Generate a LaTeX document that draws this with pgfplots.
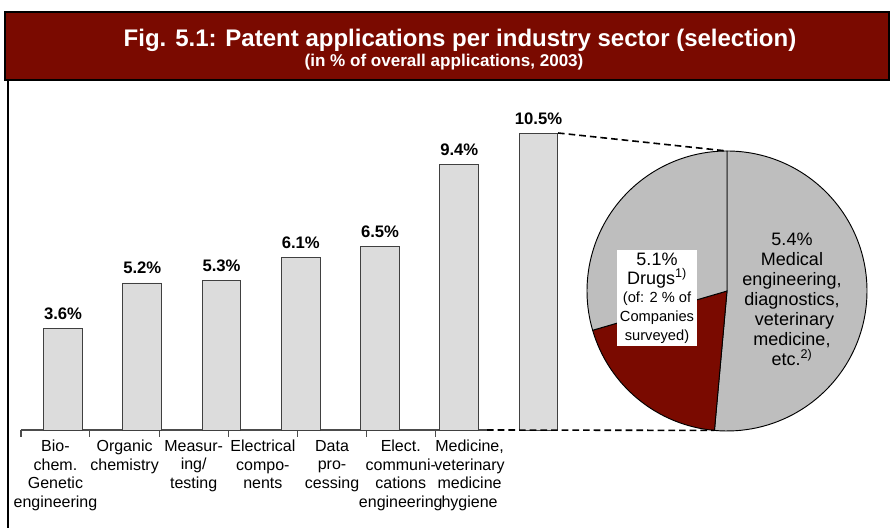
\documentclass[border=0pt]{standalone}
\usepackage{pgfplots}
\pgfplotsset{compat=1.18}
\usepackage{fontspec}
\setmainfont{Liberation Sans}
\definecolor{maroon}{HTML}{7A0A00}
\definecolor{barfill}{HTML}{DCDCDC}
\definecolor{piegray}{HTML}{BEBEBE}

% pie: medical engineering etc. / drugs (of which companies surveyed) / rest of drugs
\def\pieMed{5.4}
\def\pieDrugCo{2.0}
\def\pieDrugRest{3.1}
\def\pieTotal{10.5}

\begin{document}
\begin{tikzpicture}[x=0.75pt,y=0.75pt]
\path[use as bounding box] (0,0) rectangle (890,528);
\coordinate (axpos) at (21,98);
% frame and title bar (pixel coords, y up)
\draw[line width=1pt] (8,0) -- (8,448);
\fill[maroon] (5,448) rectangle (889,516);
\draw[line width=1pt] (5,448) rectangle (889,516);
\node[text=white,font=\fontsize{18}{20}\selectfont\bfseries] at (460,488) {Fig. 5.1: Patent applications per industry sector (selection)};
\node[text=white,font=\fontsize{12.8}{14}\selectfont\bfseries] at (444,466) {(in \% of overall applications, 2003)};

\begin{axis}[
  at={(axpos)},anchor=south west,scale only axis,
  width=349.5pt,height=233.25pt,
  xmin=-0.53,xmax=5.35,ymin=0,ymax=11,
  clip=false,
  axis x line=bottom,axis y line=none,
  axis line style={-,line width=0.8pt,black!70},
  x axis line style={-},
  xtick={-0.53,0.34,1.214,2.084,2.96,3.83,4.695},
  xticklabels={},
  tick align=outside,major tick length=5pt,
  tick style={black!70,line width=0.8pt},
  extra x ticks={-0.095,0.777,1.649,2.522,3.395,4.262,5.13},
  extra x tick labels={{Bio-\\chem.\\Genetic\\engineering},{Organic\\chemistry},{Measur-\\ing/\\testing},{Electrical\\compo-\\nents},{Data\\pro-\\cessing},{Elect.\\communi-\\cations\\engineering},{Medicine,\\veterinary\\medicine\\hygiene}},
  extra x tick style={major tick length=0pt,
    tick label style={font=\fontsize{12}{14}\selectfont,align=center,yshift=-4pt}},
  ybar,bar width=0.49,
  nodes near coords={\pgfmathprintnumber[fixed,precision=1,fixed zerofill,assume math mode=true]{\pgfplotspointmeta}\%},
  every node near coord/.append style={font=\fontsize{12.5}{14}\selectfont\bfseries,yshift=3pt},
]
\addplot[fill=barfill,draw=black!75,line width=0.7pt] coordinates {
 (0,3.6) (1,5.2) (2,5.3) (3,6.1) (4,6.5) (5,9.4) (6,10.5)};
\end{axis}

% pie of the 10.5 % for medicine
\pgfmathsetmacro{\aA}{90}
\pgfmathsetmacro{\aB}{90-360*\pieMed/\pieTotal}
\pgfmathsetmacro{\aC}{\aB-360*\pieDrugCo/\pieTotal}
\pgfmathsetmacro{\aD}{\aC-360*\pieDrugRest/\pieTotal}
\def\cx{727}\def\cy{237}\def\r{140}
\filldraw[fill=piegray,draw=black,line width=0.7pt] (\cx,\cy) -- (\cx,\cy+\r) arc[start angle=\aA,end angle=\aB,radius=\r] -- cycle;
\filldraw[fill=maroon,draw=black,line width=0.7pt] (\cx,\cy) -- ({\cx+\r*cos(\aB)},{\cy+\r*sin(\aB)}) arc[start angle=\aB,end angle=\aC,radius=\r] -- cycle;
\filldraw[fill=piegray,draw=black,line width=0.7pt] (\cx,\cy) -- ({\cx+\r*cos(\aC)},{\cy+\r*sin(\aC)}) arc[start angle=\aC,end angle=\aD,radius=\r] -- cycle;
% connector lines
\draw[dashed,line width=1.2pt,dash pattern=on 5pt off 3pt] (558,395) -- (\cx,\cy+\r);
\draw[dashed,line width=1.2pt,dash pattern=on 5pt off 3pt] (487,98) -- ({\cx+\r*cos(\aB)},{\cy+\r*sin(\aB)});
% slice labels
\node[font=\fontsize{13.5}{15}\selectfont,align=center] at (792,229) {5.4\%\\Medical\\engineering,\\diagnostics,\\\ veterinary\\medicine,\\etc.\textsuperscript{2)}};
\node[fill=white,inner sep=2pt,align=center,minimum width=78pt*0.75,minimum height=90pt*0.75,font=\fontsize{13.5}{14}\selectfont] at (657,230) {5.1\%\\Drugs\textsuperscript{1)}\\{\fontsize{11}{12}\selectfont (of: 2 \% of}\\{\fontsize{11}{12}\selectfont Companies}\\{\fontsize{11}{12}\selectfont surveyed)}};
\end{tikzpicture}
\end{document}
